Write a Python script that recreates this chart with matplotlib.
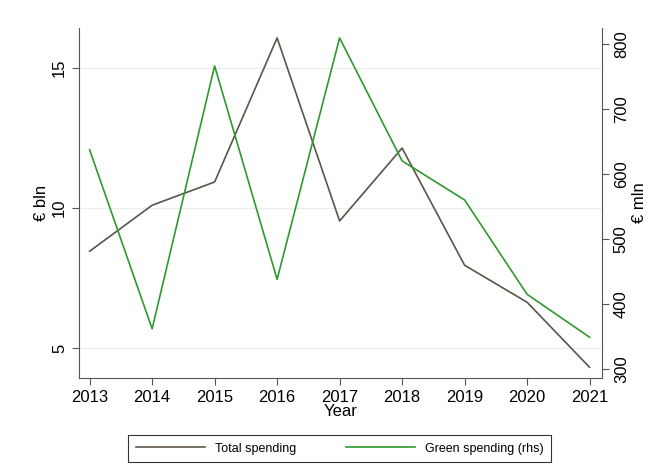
import matplotlib.pyplot as plt
import numpy as np

plt.rcParams['font.family'] = ['Liberation Sans', 'DejaVu Sans']

years = [2013, 2014, 2015, 2016, 2017, 2018, 2019, 2020, 2021]
total_spending = [8.46, 10.1, 10.93, 16.07, 9.54, 12.14, 7.96, 6.64, 4.32]   # € bln
green_spending = [637, 362, 766, 438, 809, 620, 560, 415, 349]              # € mln

fig = plt.figure(figsize=(6.53, 4.71), dpi=100)
ax = fig.add_axes([0.121, 0.197, 0.801, 0.744])
ax2 = ax.twinx()

l1, = ax.plot(years, total_spending, color='#5b5448', lw=1.2, label='Total spending')
l2, = ax2.plot(years, green_spending, color='#2e9a2e', lw=1.2, label='Green spending (rhs)')

ax.set_xlim(2012.83, 2021.2)
ax.set_ylim(3.93, 16.43)
ax2.set_ylim(286, 824.6)
ax.set_xticks(years)
ax.set_yticks([5, 10, 15])
ax2.set_yticks([300, 400, 500, 600, 700, 800])
ax.grid(axis='y', color='#e6eeee', lw=0.8)
ax.set_axisbelow(True)

for a in (ax, ax2):
    a.tick_params(labelsize=12, color='#555555', length=5)
    for s in a.spines.values():
        s.set_color('#555555')
    a.spines['top'].set_visible(False)
ax.spines['right'].set_visible(False)
ax2.spines['left'].set_visible(False)
ax2.spines['bottom'].set_visible(False)
plt.setp(ax.get_yticklabels(), rotation=90, va='center')
plt.setp(ax2.get_yticklabels(), rotation=90, va='center')

ax.set_xlabel('Year', fontsize=12, labelpad=-1)
ax.set_ylabel('€ bln', fontsize=12, labelpad=2)
ax2.set_ylabel('€ mln', fontsize=12, labelpad=2)

leg = fig.legend(handles=[l1, l2], loc='center', bbox_to_anchor=(0.52, 0.047),
                 ncol=2, fontsize=9, fancybox=False, edgecolor='black',
                 handlelength=5.5, columnspacing=4, borderpad=0.6)
leg.get_frame().set_linewidth(0.8)

fig.savefig('out.png', dpi=100)
